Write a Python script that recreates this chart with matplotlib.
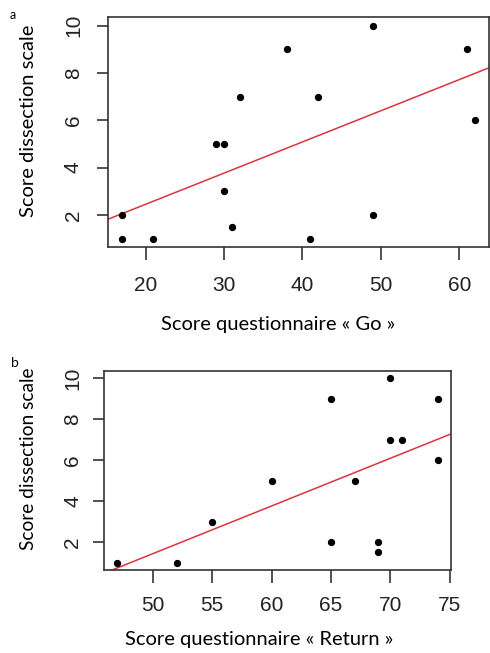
import numpy as np
import matplotlib
matplotlib.use('Agg')
import matplotlib.pyplot as plt

# panel a: questionnaire "Go"
go_x = [17, 17, 21, 29, 30, 30, 31, 32, 38, 41, 42, 49, 49, 61, 62]
go_y = [2, 1, 1, 5, 5, 3, 1.5, 7, 9, 1, 7, 10, 2, 9, 6]

# panel b: questionnaire "Return"
ret_x = [47, 52, 55, 60, 65, 65, 67, 69, 69, 70, 70, 71, 74, 74]
ret_y = [1, 1, 3, 5, 9, 2, 5, 2, 1.5, 10, 7, 7, 9, 6]

go_ticks = [20, 30, 40, 50, 60]
ret_ticks = [50, 55, 60, 65, 70, 75]
y_ticks = [2, 4, 6, 8, 10]

TICK_FONT = "Liberation Sans"
LABEL_FONT = "Lato"
SPINE = "#333333"
RED = "#d8363c"


def r_limits(vals):
    # R's default 4% padding around the data range
    lo, hi = min(vals), max(vals)
    pad = (hi - lo) * 0.04
    return lo - pad, hi + pad


def panel(fig, rect, xs, ys, xticks, xpad, ypad):
    ax = fig.add_axes(rect)
    ax.scatter(xs, ys, s=18, color="black", zorder=3)
    xlim = r_limits(xs)
    ylim = r_limits(ys)
    slope, icpt = np.polyfit(xs, ys, 1)
    line_x = np.array(xlim)
    ax.plot(line_x, slope * line_x + icpt, color=RED, lw=1.1, zorder=2)
    ax.set_xlim(xlim)
    ax.set_ylim(ylim)
    ax.set_xticks(xticks)
    ax.set_yticks(y_ticks)
    ax.set_xticklabels([str(t) for t in xticks], fontfamily=TICK_FONT,
                       fontsize=15, color="#222222")
    ax.set_yticklabels([str(t) for t in y_ticks], fontfamily=TICK_FONT,
                       fontsize=15, color="#222222", rotation=90, va="center")
    ax.tick_params(axis="x", length=9, width=1.2, color=SPINE, pad=xpad)
    ax.tick_params(axis="y", length=8, width=1.2, color=SPINE, pad=ypad)
    for s in ax.spines.values():
        s.set_color(SPINE)
        s.set_linewidth(1.2)
    return ax


fig = plt.figure(figsize=(4.9, 6.53), dpi=100)

panel(fig, [0.2204, 0.6217, 0.7776, 0.3522], go_x, go_y, go_ticks, 12, 10)
panel(fig, [0.2129, 0.1271, 0.7069, 0.3052], ret_x, ret_y, ret_ticks, 9.5, 8)

fig.text(278 / 490, 1 - 325 / 653, "Score questionnaire « Go »",
         fontfamily=LABEL_FONT, fontsize=14.5, ha="center", va="center")
fig.text(259 / 490, 1 - 640 / 653, "Score questionnaire « Return »",
         fontfamily=LABEL_FONT, fontsize=14.5, ha="center", va="center")
fig.text(29 / 490, 1 - 121 / 653, "Score dissection scale",
         fontfamily=LABEL_FONT, fontsize=14.5, rotation=90,
         ha="center", va="center")
fig.text(29 / 490, 1 - 459 / 653, "Score dissection scale",
         fontfamily=LABEL_FONT, fontsize=13.8, rotation=90,
         ha="center", va="center")
fig.text(13 / 490, 1 - 15 / 653, "a", fontfamily=LABEL_FONT, fontsize=9,
         ha="center", va="center")
fig.text(15 / 490, 1 - 363 / 653, "b", fontfamily=LABEL_FONT, fontsize=10,
         ha="center", va="center")

fig.savefig("out.png", dpi=100)
